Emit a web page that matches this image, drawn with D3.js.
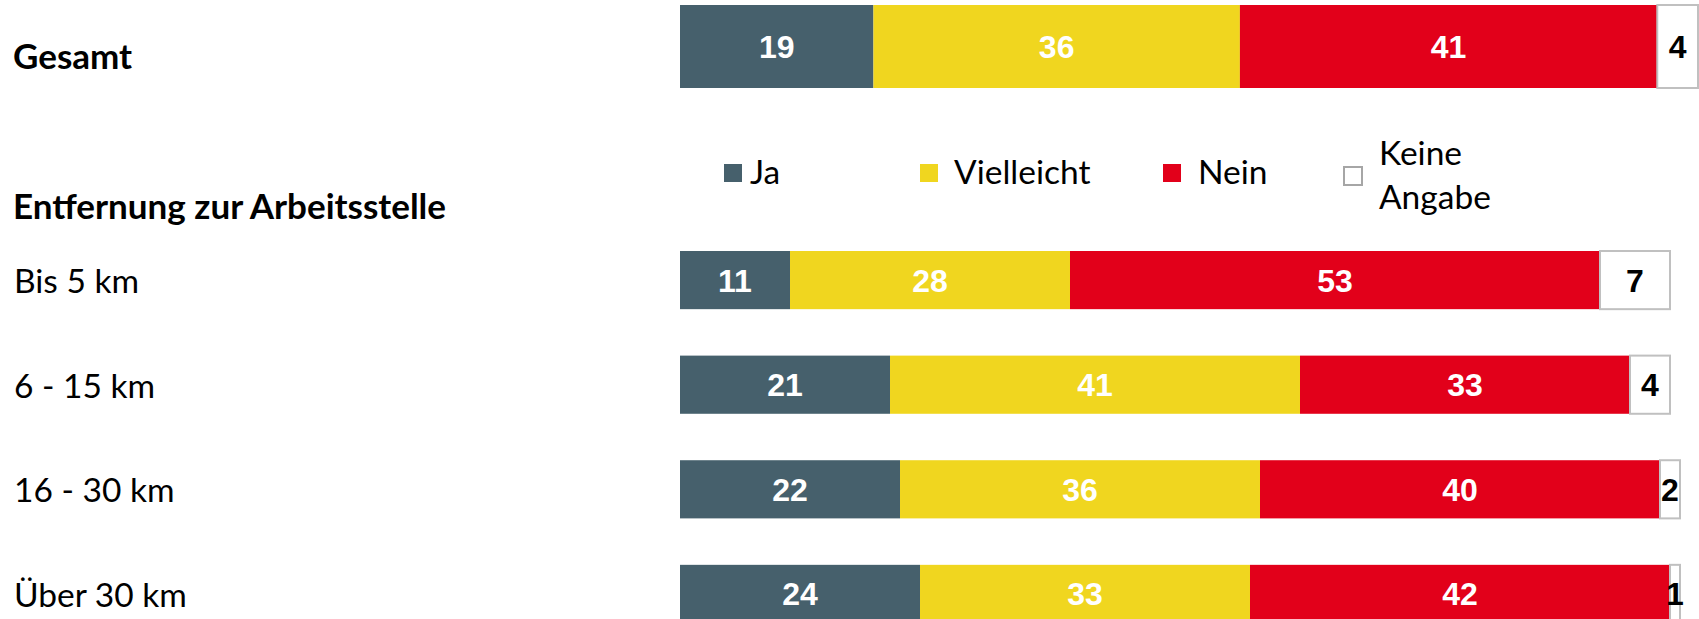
<!DOCTYPE html>
<html>
<head>
<meta charset="utf-8">
<script src="https://cdn.jsdelivr.net/npm/d3@7"></script>
<style>
  body { margin: 0; background: #fff; }
  svg { display: block; }
</style>
</head>
<body>
<svg id="chart"></svg>
<script>
// data
const categories = ["Ja", "Vielleicht", "Nein", "Keine Angabe"]
const totalLabel = "Gesamt"
const totalValues = [19, 36, 41, 4]
const groupTitle = "Entfernung zur Arbeitsstelle"
const rows = ["Bis 5 km", "6 - 15 km", "16 - 30 km", "Über 30 km"]
const ja = [11, 21, 22, 24]
const vielleicht = [28, 41, 36, 33]
const nein = [53, 33, 40, 42]
const keineAngabe = [7, 4, 2, 1]

const width = 1699, height = 619
const colors = ["#46606c", "#f0d61f", "#e2001a", "#ffffff"]
const labelFont = "Lato, 'Noto Sans', sans-serif"
const valueFont = "'Liberation Sans', Arial, sans-serif"

const svg = d3.select("#chart")
  .attr("width", width)
  .attr("height", height)

const color = d3.scaleOrdinal().domain(categories).range(colors)

// x scales (the total bar is a little wider than the group bars)
const xTop = d3.scaleLinear().domain([0, 100]).range([680, 1698])
const xRows = d3.scaleLinear().domain([0, 100]).range([680, 1680])

// y scales
const yTop = d3.scaleBand().domain([totalLabel]).range([5, 88])
const yRows = d3.scaleBand()
  .domain(rows)
  .range([251, 623])
  .paddingInner(0.444)
  .paddingOuter(0)

// build table for stacking
const topTable = [Object.fromEntries([["row", totalLabel]].concat(categories.map((c, i) => [c, totalValues[i]])))]
const rowTable = rows.map((r, i) => ({
  row: r,
  "Ja": ja[i],
  "Vielleicht": vielleicht[i],
  "Nein": nein[i],
  "Keine Angabe": keineAngabe[i]
}))

const stack = d3.stack().keys(categories)

function drawBars(table, x, y, cls) {
  const series = stack(table)
  const groups = svg.selectAll("." + cls)
    .data(series)
    .enter()
    .append("g")
      .attr("class", cls)

  groups.selectAll("rect")
    .data(s => s.map(d => Object.assign(d, { key: s.key })))
    .enter()
    .append("rect")
      .attr("x", d => x(d[0]))
      .attr("y", d => y(d.data.row))
      .attr("width", d => x(d[1]) - x(d[0]))
      .attr("height", y.bandwidth())
      .attr("fill", d => color(d.key))
      .attr("stroke", d => d.key === "Keine Angabe" ? "#c0c0c0" : "none")
      .attr("stroke-width", 2)

  groups.selectAll("text")
    .data(s => s)
    .enter()
    .append("text")
      .attr("x", d => (x(d[0]) + x(d[1])) / 2)
      .attr("y", d => y(d.data.row) + y.bandwidth() / 2)
      .attr("dy", "0.36em")
      .attr("text-anchor", "middle")
      .attr("font-family", valueFont)
      .attr("font-weight", "bold")
      .attr("font-size", 32)
      .attr("fill", d => d.key === "Keine Angabe" ? "#000" : "#fff")
      .text(d => d[1] - d[0])
}

drawBars(topTable, xTop, yTop, "top-series")
drawBars(rowTable, xRows, yRows, "row-series")

// left labels
svg.append("text")
  .attr("x", 13)
  .attr("y", yTop(totalLabel) + yTop.bandwidth() / 2 + 22)
  .attr("font-family", labelFont)
  .attr("font-weight", "bold")
  .attr("font-size", 35)
  .text(totalLabel)

svg.append("text")
  .attr("x", 13)
  .attr("y", 219)
  .attr("font-family", labelFont)
  .attr("font-weight", "bold")
  .attr("font-size", 35)
  .text(groupTitle)

svg.selectAll(".row-label")
  .data(rows)
  .enter()
  .append("text")
    .attr("class", "row-label")
    .attr("x", 14)
    .attr("y", d => yRows(d) + yRows.bandwidth() / 2 + 13)
    .attr("font-family", labelFont)
    .attr("font-size", 33.5)
    .text(d => d)

// legend
const legendX = [724, 920, 1163, 1344]
const legendGap = [26, 34, 35, 35]
const legend = svg.selectAll(".legend")
  .data(categories)
  .enter()
  .append("g")
    .attr("class", "legend")
    .attr("transform", (d, i) => "translate(" + legendX[i] + ",0)")

legend.append("rect")
  .attr("x", 0)
  .attr("y", (d, i) => i === 3 ? 167 : 164)
  .attr("width", 18)
  .attr("height", 18)
  .attr("fill", d => color(d))
  .attr("stroke", d => d === "Keine Angabe" ? "#a6a6a6" : "none")
  .attr("stroke-width", 2)

legend.append("text")
  .attr("x", (d, i) => legendGap[i])
  .attr("y", 184)
  .attr("font-family", labelFont)
  .attr("font-size", 33.5)
  .each(function(d) {
    const words = d.split(" ")
    const t = d3.select(this)
    if (words.length > 1) {
      t.attr("y", 164.5)
      words.forEach((w, j) => {
        t.append("tspan")
          .attr("x", legendGap[3])
          .attr("dy", j === 0 ? 0 : 44.5)
          .text(w)
      })
    } else {
      t.text(d)
    }
  })
</script>
</body>
</html>
